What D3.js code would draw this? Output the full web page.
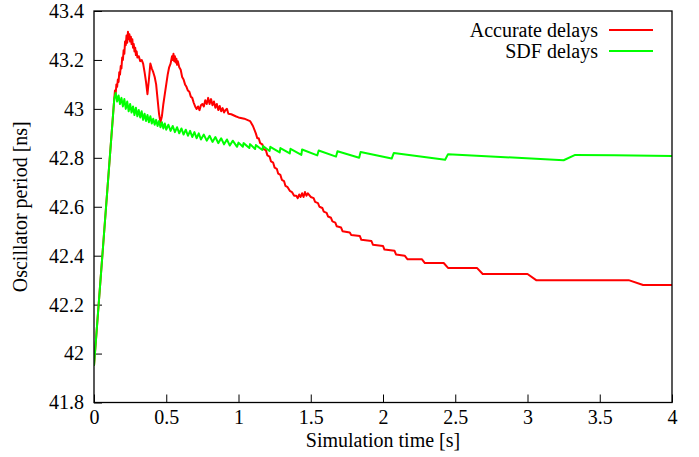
<!DOCTYPE html>
<html>
<head>
<meta charset="utf-8">
<script src="https://cdn.jsdelivr.net/npm/d3@7"></script>
<style>
  html, body { margin: 0; padding: 0; background: #fff; }
  svg text { font-family: "Liberation Serif", "Times New Roman", serif; fill: #000; }
</style>
</head>
<body>
<svg id="chart" width="699" height="457"></svg>
<script>
// ---- Data ----
const xTicks = [0, 0.5, 1, 1.5, 2, 2.5, 3, 3.5, 4];
const xTickLabels = ["0", "0.5", "1", "1.5", "2", "2.5", "3", "3.5", "4"];
const yTicks = [41.8, 42, 42.2, 42.4, 42.6, 42.8, 43, 43.2, 43.4];
const yTickLabels = ["41.8", "42", "42.2", "42.4", "42.6", "42.8", "43", "43.2", "43.4"];
const seriesNames = ["Accurate delays", "SDF delays"];
const seriesColors = ["#ff0000", "#00ff00"];

// Accurate delays: simulation time [s], oscillator period [ns]
const accurateTime = [
  0.000, 0.140, 0.145, 0.150, 0.155, 0.160, 0.165, 0.170, 0.175, 0.180, 0.185, 0.190, 0.195, 0.200,
  0.205, 0.210, 0.215, 0.220, 0.225, 0.230, 0.235, 0.240, 0.245, 0.250, 0.255, 0.260, 0.265, 0.270,
  0.275, 0.280, 0.285, 0.290, 0.295, 0.300, 0.310, 0.320, 0.330, 0.340, 0.350, 0.360, 0.370, 0.380,
  0.390, 0.400, 0.410, 0.420, 0.430, 0.440, 0.450, 0.460, 0.470, 0.480, 0.490, 0.500, 0.510, 0.520,
  0.530, 0.540, 0.545, 0.550, 0.555, 0.560, 0.565, 0.570, 0.575, 0.580, 0.590, 0.600, 0.610, 0.620,
  0.630, 0.640, 0.650, 0.660, 0.670, 0.680, 0.690, 0.700, 0.710, 0.720, 0.730, 0.740, 0.750, 0.760,
  0.770, 0.780, 0.790, 0.800, 0.810, 0.820, 0.830, 0.840, 0.850, 0.860, 0.870, 0.880, 0.890, 0.900,
  0.910, 0.920, 0.930, 0.950, 0.980, 1.000, 1.040, 1.080, 1.100, 1.120, 1.130, 1.140, 1.150, 1.165,
  1.175, 1.190, 1.200, 1.215, 1.225, 1.240, 1.250, 1.265, 1.275, 1.290, 1.300, 1.315, 1.325, 1.340,
  1.355, 1.370, 1.385, 1.400, 1.410, 1.420, 1.430, 1.440, 1.450, 1.460, 1.470, 1.480, 1.500, 1.520,
  1.530, 1.550, 1.560, 1.580, 1.590, 1.610, 1.620, 1.640, 1.650, 1.670, 1.680, 1.710, 1.720, 1.770,
  1.780, 1.840, 1.850, 1.920, 1.930, 2.000, 2.010, 2.080, 2.090, 2.150, 2.170, 2.270, 2.290, 2.420,
  2.450, 2.650, 2.690, 3.000, 3.060, 3.700, 3.800, 4.000
];
const accuratePeriod = [
  41.950, 43.040, 43.075, 43.060, 43.100, 43.090, 43.120, 43.110, 43.150, 43.140, 43.175, 43.165, 43.210, 43.200,
  43.240, 43.225, 43.275, 43.260, 43.300, 43.270, 43.315, 43.285, 43.305, 43.275, 43.295, 43.265, 43.285, 43.250,
  43.265, 43.235, 43.250, 43.220, 43.235, 43.210, 43.215, 43.195, 43.200, 43.185, 43.150, 43.110, 43.060, 43.120,
  43.185, 43.165, 43.150, 43.130, 43.100, 43.040, 42.980, 42.945, 42.970, 43.020, 43.060, 43.100, 43.140, 43.170,
  43.185, 43.215, 43.200, 43.225, 43.195, 43.215, 43.190, 43.205, 43.180, 43.195, 43.170, 43.160, 43.130, 43.120,
  43.100, 43.090, 43.075, 43.070, 43.050, 43.045, 43.025, 43.010, 43.000, 43.010, 42.995, 43.015, 43.020, 43.010,
  43.035, 43.020, 43.045, 43.020, 43.040, 43.015, 43.030, 43.005, 43.020, 42.995, 43.012, 42.990, 43.003, 42.985,
  42.995, 43.000, 42.980, 42.978, 42.970, 42.965, 42.960, 42.950, 42.930, 42.900, 42.880, 42.880, 42.860, 42.855,
  42.835, 42.830, 42.810, 42.805, 42.785, 42.780, 42.760, 42.755, 42.735, 42.730, 42.710, 42.705, 42.685, 42.680,
  42.665, 42.660, 42.645, 42.645, 42.635, 42.650, 42.640, 42.655, 42.640, 42.660, 42.645, 42.655, 42.640, 42.635,
  42.620, 42.615, 42.600, 42.595, 42.580, 42.575, 42.560, 42.555, 42.540, 42.535, 42.520, 42.515, 42.500, 42.495,
  42.485, 42.480, 42.465, 42.460, 42.445, 42.440, 42.425, 42.420, 42.405, 42.400, 42.385, 42.385, 42.370, 42.370,
  42.350, 42.350, 42.325, 42.325, 42.300, 42.300, 42.280, 42.280
];

// SDF delays
const sdfTime = [
  0.000, 0.140, 0.150, 0.160, 0.170, 0.180, 0.190, 0.200, 0.210, 0.220, 0.230, 0.240, 0.250, 0.260,
  0.270, 0.280, 0.290, 0.300, 0.310, 0.320, 0.330, 0.340, 0.350, 0.360, 0.370, 0.380, 0.390, 0.400,
  0.410, 0.420, 0.430, 0.440, 0.450, 0.460, 0.470, 0.480, 0.490, 0.500, 0.515, 0.530, 0.545, 0.560,
  0.575, 0.590, 0.605, 0.620, 0.635, 0.650, 0.665, 0.680, 0.695, 0.710, 0.725, 0.740, 0.760, 0.780,
  0.800, 0.820, 0.840, 0.860, 0.880, 0.900, 0.920, 0.940, 0.960, 0.990, 1.000, 1.030, 1.035, 1.075,
  1.080, 1.115, 1.120, 1.165, 1.170, 1.215, 1.220, 1.285, 1.290, 1.355, 1.360, 1.435, 1.440, 1.545,
  1.555, 1.675, 1.685, 1.835, 1.845, 2.060, 2.075, 2.430, 2.450, 3.250, 3.330, 3.600, 4.000
];
const sdfPeriod = [
  41.950, 43.040, 43.065, 43.030, 43.055, 43.020, 43.045, 43.010, 43.040, 43.000, 43.030, 42.990, 43.020, 42.985,
  43.010, 42.975, 43.005, 42.970, 42.995, 42.965, 42.990, 42.955, 42.980, 42.950, 42.975, 42.945, 42.970, 42.940,
  42.960, 42.935, 42.955, 42.930, 42.950, 42.925, 42.945, 42.920, 42.940, 42.915, 42.935, 42.910, 42.930, 42.905,
  42.925, 42.900, 42.920, 42.895, 42.915, 42.890, 42.910, 42.885, 42.905, 42.880, 42.900, 42.875, 42.895, 42.870,
  42.890, 42.865, 42.885, 42.860, 42.880, 42.855, 42.875, 42.850, 42.870, 42.845, 42.862, 42.845, 42.860, 42.840,
  42.856, 42.836, 42.852, 42.832, 42.848, 42.828, 42.845, 42.822, 42.840, 42.818, 42.837, 42.812, 42.834, 42.810,
  42.830, 42.805, 42.827, 42.800, 42.824, 42.797, 42.820, 42.792, 42.815, 42.790, 42.812, 42.810, 42.807
];

// ---- Layout ----
const svg = d3.select("#chart");
const plot = { left: 94, top: 11, right: 672, bottom: 402.5 };
const x = d3.scaleLinear().domain([0, 4]).range([plot.left, plot.right]);
const y = d3.scaleLinear().domain([41.8, 43.4]).range([plot.bottom, plot.top]);
const fontSize = 20;

// Axes (gnuplot style: ticks inward, left and bottom only)
const xAxis = d3.axisBottom(x).tickValues(xTicks).tickFormat((d, i) => xTickLabels[i])
  .tickSizeInner(-8).tickSizeOuter(0).tickPadding(0);
const yAxis = d3.axisLeft(y).tickValues(yTicks).tickFormat((d, i) => yTickLabels[i])
  .tickSizeInner(-8).tickSizeOuter(0).tickPadding(10);

const gx = svg.append("g").attr("transform", `translate(0,${plot.bottom})`).call(xAxis);
const gy = svg.append("g").attr("transform", `translate(${plot.left},0)`).call(yAxis);
[gx, gy].forEach(g => {
  g.select(".domain").remove();
  g.attr("font-family", null).attr("font-size", null);
  g.selectAll(".tick line").attr("stroke", "#000").attr("stroke-width", 1);
  g.selectAll(".tick text").attr("font-size", fontSize).attr("fill", "#000");
});
gx.selectAll(".tick text").attr("y", 21.5).attr("dy", null);

// Series lines
const line = d3.line().x(d => x(d[0])).y(d => y(d[1]));
const accurate = accurateTime.map((t, i) => [t, accuratePeriod[i]]);
const sdf = sdfTime.map((t, i) => [t, sdfPeriod[i]]);
const clip = svg.append("clipPath").attr("id", "clip").append("rect")
  .attr("x", plot.left).attr("y", plot.top)
  .attr("width", plot.right - plot.left).attr("height", plot.bottom - plot.top);
const lines = svg.append("g").attr("clip-path", "url(#clip)");
lines.append("path").datum(accurate).attr("d", line)
  .attr("fill", "none").attr("stroke", seriesColors[0]).attr("stroke-width", 2).attr("stroke-linejoin", "round");
lines.append("path").datum(sdf).attr("d", line)
  .attr("fill", "none").attr("stroke", seriesColors[1]).attr("stroke-width", 2).attr("stroke-linejoin", "round");

// Border box
svg.append("rect")
  .attr("x", plot.left).attr("y", plot.top)
  .attr("width", plot.right - plot.left).attr("height", plot.bottom - plot.top)
  .attr("fill", "none").attr("stroke", "#000").attr("stroke-width", 1.3);

// Legend
const legend = svg.append("g");
seriesNames.forEach((name, i) => {
  const ly = 30 + i * 21;
  legend.append("text").attr("x", 598).attr("y", ly).attr("dy", "0.35em")
    .attr("text-anchor", "end").attr("font-size", fontSize).text(name);
  legend.append("line").attr("x1", 609).attr("x2", 653).attr("y1", ly).attr("y2", ly)
    .attr("stroke", seriesColors[i]).attr("stroke-width", 2);
});

// Axis titles
svg.append("text").attr("x", (plot.left + plot.right) / 2).attr("y", 447)
  .attr("text-anchor", "middle").attr("font-size", fontSize).text("Simulation time [s]");
svg.append("text").attr("transform", `translate(27,${(plot.top + plot.bottom) / 2}) rotate(-90)`)
  .attr("text-anchor", "middle").attr("font-size", fontSize).text("Oscillator period [ns]");
</script>
</body>
</html>
